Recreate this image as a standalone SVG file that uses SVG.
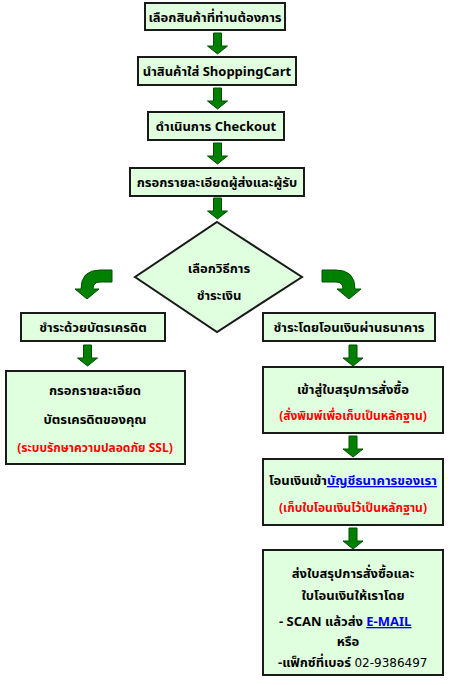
<svg xmlns="http://www.w3.org/2000/svg" width="450" height="685" viewBox="0 0 450 685">
<defs>
<style>
.box{fill:#dfffdf;stroke:#1a1a1a;stroke-width:2}
.t{font-family:"Noto Sans Thai","Noto Sans","Liberation Serif",sans-serif;font-weight:bold;font-size:13px;fill:#000;text-anchor:middle}
.r{fill:#ff0000;font-size:12px}
.b{fill:#0000ee;text-decoration:underline}
.arr{fill:#008000;stroke:#005000;stroke-width:1}
.num{font-family:"DejaVu Sans","Liberation Sans",sans-serif;font-weight:normal;font-size:12px}
</style>
<path id="down" d="M-4,0 H4 V13 H10 L0,21 L-10,13 H-4 Z"/>
</defs>
<rect width="450" height="685" fill="#ffffff"/>
<g id="connectors">
<use href="#down" class="arr" x="217.5" y="33"/>
<use href="#down" class="arr" x="217.5" y="88"/>
<use href="#down" class="arr" x="217.5" y="143"/>
<use href="#down" class="arr" x="217.5" y="198"/>
<path class="arr" d="M112,270 L100,270 Q81,270 81,289 L75,289 L87,299 L99,289 L93,289 Q93,282 100,282 L112,282 Z"/>
<path class="arr" d="M322,270 L336,270 Q355,270 355,289 L361,289 L349,299 L337,289 L343,289 Q343,282 336,282 L322,282 Z"/>
<use href="#down" class="arr" x="87.5" y="345"/>
<use href="#down" class="arr" x="353" y="345"/>
<use href="#down" class="arr" x="353" y="436"/>
<use href="#down" class="arr" x="353" y="528"/>
</g>
<g id="n1"><rect class="box" x="145" y="3" width="140" height="27"/><text class="t" x="215" y="22">เลือกสินค้าที่ท่านต้องการ</text></g>
<g id="n2"><rect class="box" x="138" y="57" width="158" height="28"/><text class="t" x="217" y="76">นำสินค้าใส่ ShoppingCart</text></g>
<g id="n3"><rect class="box" x="148" y="112" width="136" height="28"/><text class="t" x="216" y="131">ดำเนินการ Checkout</text></g>
<g id="n4"><rect class="box" x="130" y="168" width="174" height="28"/><text class="t" x="217" y="187">กรอกรายละเอียดผู้ส่งและผู้รับ</text></g>
<g id="n5"><polygon class="box" points="217,222 302,277 217,332 135,277"/><text class="t" x="219" y="273">เลือกวิธีการ</text><text class="t" x="219" y="300">ชำระเงิน</text></g>
<g id="n6"><rect class="box" x="21" y="313" width="144" height="28"/><text class="t" x="93" y="332">ชำระด้วยบัตรเครดิต</text></g>
<g id="n7"><rect class="box" x="263" y="313" width="172" height="28"/><text class="t" x="349" y="332">ชำระโดยโอนเงินผ่านธนาคาร</text></g>
<g id="n8"><rect class="box" x="6" y="371" width="179" height="93"/><text class="t" x="95" y="395">กรอกรายละเอียด</text><text class="t" x="95" y="424">บัตรเครดิตของคุณ</text><text class="t r" x="95" y="452">(ระบบรักษาความปลอดภัย SSL)</text></g>
<g id="n9"><rect class="box" x="263" y="367" width="180" height="66"/><text class="t" x="353" y="394">เข้าสู่ใบสรุปการสั่งซื้อ</text><text class="t r" x="353" y="420">(สั่งพิมพ์เพื่อเก็บเป็นหลักฐาน)</text></g>
<g id="n10"><rect class="box" x="263" y="459" width="180" height="66"/><text class="t" x="353" y="485">โอนเงินเข้า<tspan class="b">บัญชีธนาคารของเรา</tspan></text><text class="t r" x="353" y="512">(เก็บใบโอนเงินไว้เป็นหลักฐาน)</text></g>
<g id="n11"><rect class="box" x="263" y="550" width="180" height="125"/><text class="t" x="353" y="578">ส่งใบสรุปการสั่งซื้อและ</text><text class="t" x="353" y="600">ใบโอนเงินให้เราโดย</text><text class="t" x="279" y="626" style="text-anchor:start">- SCAN แล้วส่ง <tspan class="b">E-MAIL</tspan></text><text class="t" x="348" y="646">หรือ</text><text class="t" x="278" y="667" style="text-anchor:start">-แฟ็กซ์ที่เบอร์ <tspan class="num">02-9386497</tspan></text></g>
</svg>
